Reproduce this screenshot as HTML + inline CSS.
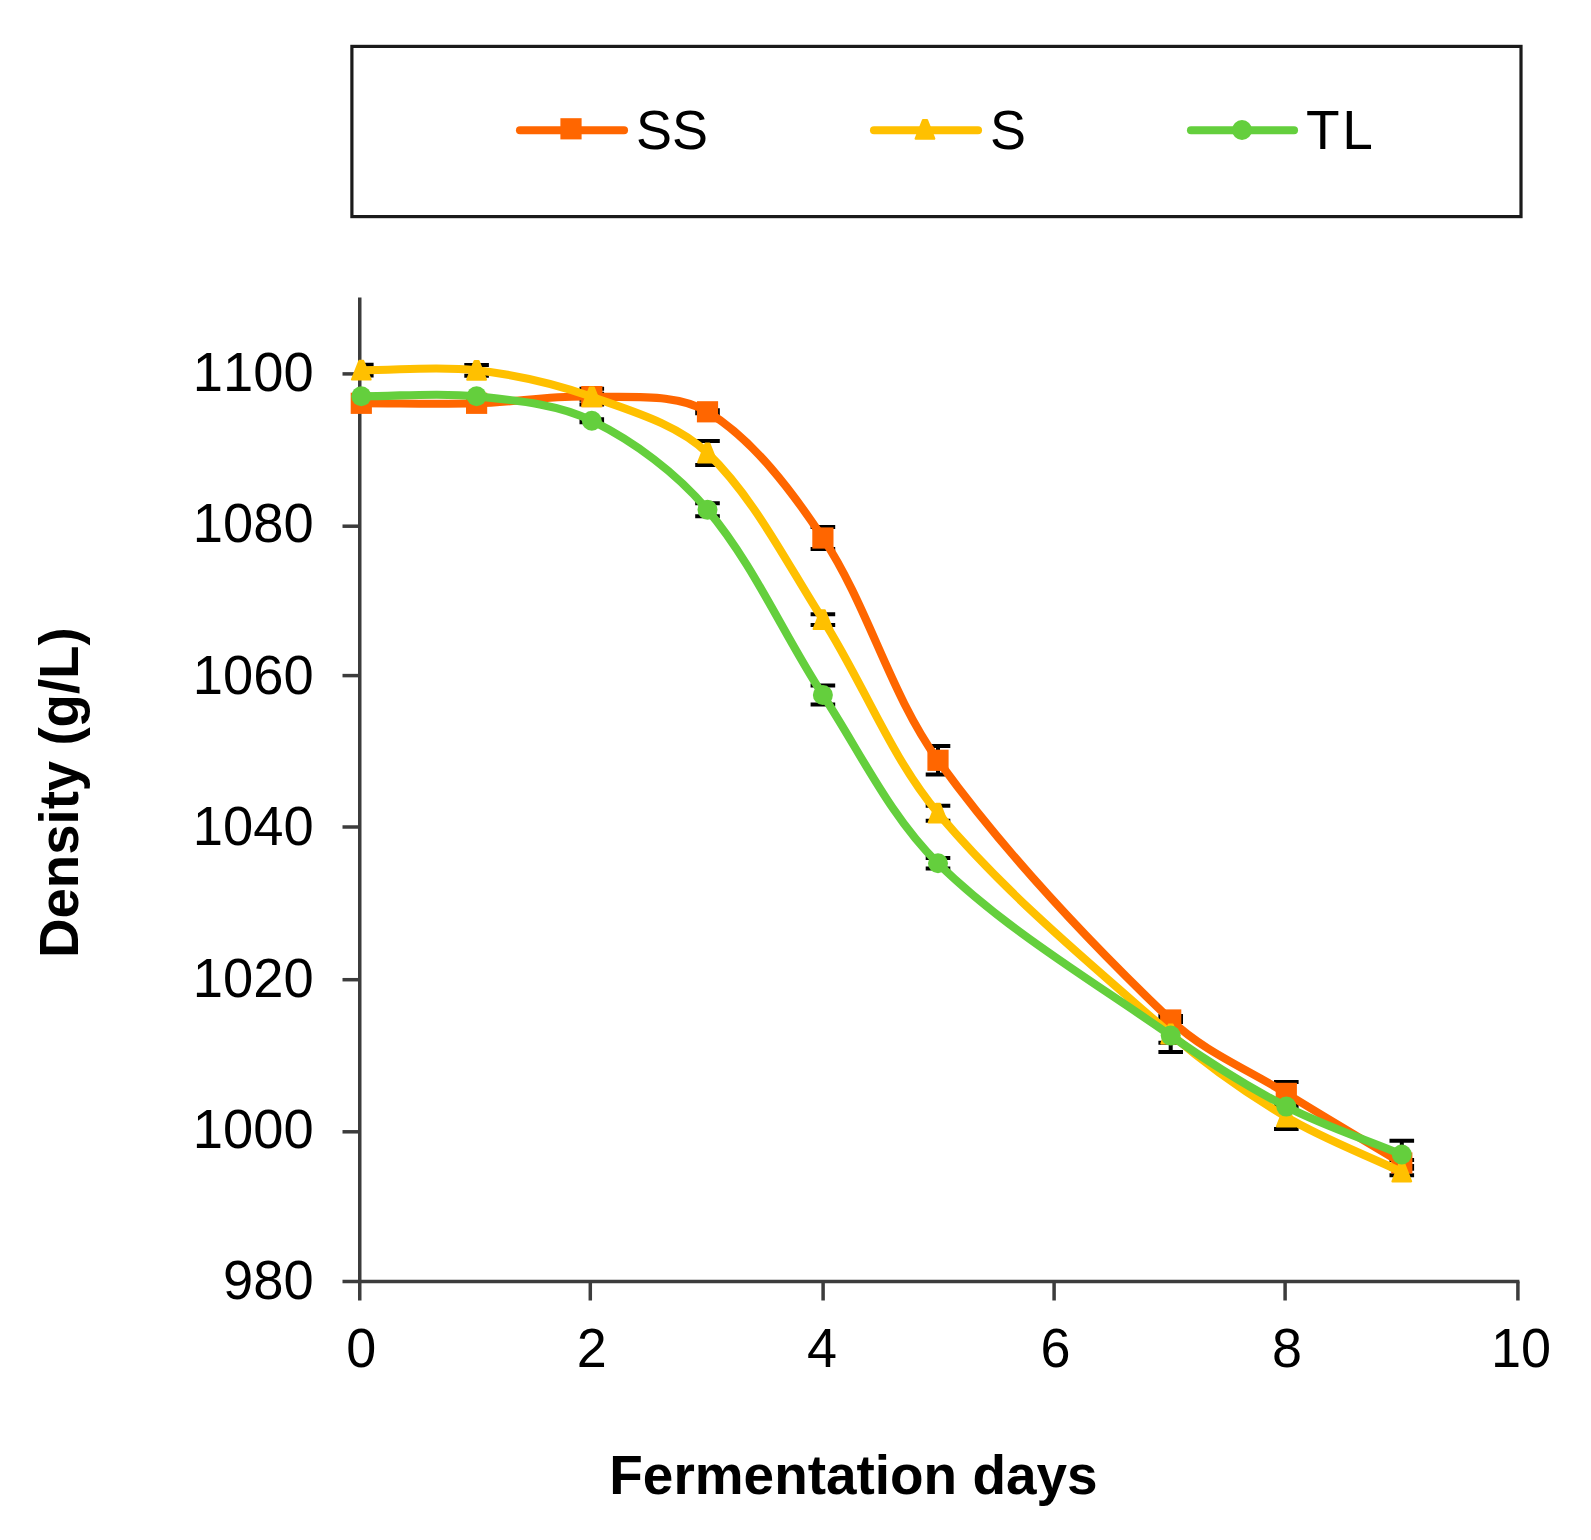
<!DOCTYPE html>
<html lang="en">
<head>
<meta charset="utf-8">
<title>Density during fermentation</title>
<style>
html,body{margin:0;padding:0;background:#fff;}
body{width:1591px;height:1540px;overflow:hidden;}
svg{display:block;}
text{font-family:"Liberation Sans",sans-serif;fill:#000;font-kerning:none;}
.b{font-weight:bold;}
</style>
</head>
<body>
<svg width="1591" height="1540" viewBox="0 0 1591 1540">
<rect x="0" y="0" width="1591" height="1540" fill="#fff"/>
<g>

<rect x="351.9" y="46.4" width="1169.1" height="170.2" fill="none" stroke="#1a1a1a" stroke-width="3.2"/>
<line x1="520.0" y1="130.3" x2="624.0" y2="130.3" stroke="#FF6600" stroke-width="8.1" stroke-linecap="round"/><rect x="560.40" y="118.20" width="21.2" height="21.2" fill="#FF6600"/><text x="636" y="149.3" font-size="55" textLength="72" lengthAdjust="spacingAndGlyphs">SS</text>
<line x1="874.0" y1="130.3" x2="978.0" y2="130.3" stroke="#FFC000" stroke-width="8.1" stroke-linecap="round"/><path d="M923.00 119.90 L927.00 119.90 L934.40 138.70 L915.60 138.70 Z" fill="#FFC000" stroke="#FFC000" stroke-width="2.0" stroke-linejoin="round"/><text x="990" y="149.3" font-size="55" textLength="36" lengthAdjust="spacingAndGlyphs">S</text>
<line x1="1191.0" y1="130.3" x2="1294.0" y2="130.3" stroke="#64CF3D" stroke-width="8.1" stroke-linecap="round"/><circle cx="1242.00" cy="130.00" r="10" fill="#64CF3D"/><text x="1306 1342.3" y="149.3" font-size="55">TL</text>
<g stroke="#3c3c3c" stroke-width="3.5" fill="none">
<line x1="359.75" y1="297.5" x2="359.75" y2="1300.5"/>
<line x1="342.5" y1="1281.4" x2="1519.4" y2="1281.4"/>
<line x1="342.5" y1="1131.8" x2="359.75" y2="1131.8"/>
<line x1="342.5" y1="979.7" x2="359.75" y2="979.7"/>
<line x1="342.5" y1="827.0" x2="359.75" y2="827.0"/>
<line x1="342.5" y1="675.6" x2="359.75" y2="675.6"/>
<line x1="342.5" y1="526.2" x2="359.75" y2="526.2"/>
<line x1="342.5" y1="373.9" x2="359.75" y2="373.9"/>
<line x1="590.3" y1="1281.4" x2="590.3" y2="1300.5"/>
<line x1="823.1" y1="1281.4" x2="823.1" y2="1300.5"/>
<line x1="1054.1" y1="1281.4" x2="1054.1" y2="1300.5"/>
<line x1="1285.1" y1="1281.4" x2="1285.1" y2="1300.5"/>
<line x1="1517.9" y1="1281.4" x2="1517.9" y2="1300.5"/>
</g>
<text x="223.0" y="1299.3" font-size="55" textLength="90.6" lengthAdjust="spacingAndGlyphs">980</text>
<text x="192.8" y="1147.9" font-size="55" textLength="120.8" lengthAdjust="spacingAndGlyphs">1000</text>
<text x="192.8" y="996.5" font-size="55" textLength="120.8" lengthAdjust="spacingAndGlyphs">1020</text>
<text x="192.8" y="845.1" font-size="55" textLength="120.8" lengthAdjust="spacingAndGlyphs">1040</text>
<text x="192.8" y="693.7" font-size="55" textLength="120.8" lengthAdjust="spacingAndGlyphs">1060</text>
<text x="192.8" y="542.3" font-size="55" textLength="120.8" lengthAdjust="spacingAndGlyphs">1080</text>
<text x="192.8" y="390.9" font-size="55" textLength="120.8" lengthAdjust="spacingAndGlyphs">1100</text>
<text x="346.3" y="1366.5" font-size="55" textLength="30.0" lengthAdjust="spacingAndGlyphs">0</text>
<text x="576.7" y="1366.5" font-size="55" textLength="30.0" lengthAdjust="spacingAndGlyphs">2</text>
<text x="807.1" y="1366.5" font-size="55" textLength="30.0" lengthAdjust="spacingAndGlyphs">4</text>
<text x="1040.5" y="1366.5" font-size="55" textLength="30.0" lengthAdjust="spacingAndGlyphs">6</text>
<text x="1271.9" y="1366.5" font-size="55" textLength="30.0" lengthAdjust="spacingAndGlyphs">8</text>
<text x="1491.0" y="1366.5" font-size="55" textLength="60.1" lengthAdjust="spacingAndGlyphs">10</text>
<text class="b" x="609.3" y="1493.6" font-size="55.3" textLength="488.3" lengthAdjust="spacingAndGlyphs">Fermentation days</text>
<text class="b" transform="translate(78.2 958.0) rotate(-90)" font-size="55.3" textLength="330.6" lengthAdjust="spacingAndGlyphs">Density (g/L)</text>
<path d="M591.8 388.8V404.4M579.5 388.8H604.1M579.5 404.4H604.1M707.5 410.3V413.3M695.2 410.3H719.8M695.2 413.3H719.8M822.9 527.0V549.0M810.6 527.0H835.2M810.6 549.0H835.2M938.0 746.0V774.6M925.7 746.0H950.3M925.7 774.6H950.3M1170.7 1018.0V1022.0M1158.4 1018.0H1183.0M1158.4 1022.0H1183.0M1286.3 1082.1V1104.7M1274.0 1082.1H1298.6M1274.0 1104.7H1298.6M1401.8 1160.0V1166.0M1389.5 1160.0H1414.1M1389.5 1166.0H1414.1M361.3 364.8V375.6M361.3 364.8H373.6M361.3 375.6H373.6M476.6 364.9V375.7M464.3 364.9H488.9M464.3 375.7H488.9M591.8 393.8V399.8M579.5 393.8H604.1M579.5 399.8H604.1M707.5 441.0V465.0M695.2 441.0H719.8M695.2 465.0H719.8M822.9 614.3V625.1M810.6 614.3H835.2M810.6 625.1H835.2M938.0 805.7V820.7M925.7 805.7H950.3M925.7 820.7H950.3M1170.7 1016.0V1052.0M1158.4 1016.0H1183.0M1158.4 1052.0H1183.0M1286.3 1105.0V1129.0M1274.0 1105.0H1298.6M1274.0 1129.0H1298.6M1401.8 1168.7V1175.3M1389.5 1168.7H1414.1M1389.5 1175.3H1414.1M591.8 419.2V422.2M579.5 419.2H604.1M579.5 422.2H604.1M707.5 503.3V516.3M695.2 503.3H719.8M695.2 516.3H719.8M822.9 685.5V704.5M810.6 685.5H835.2M810.6 704.5H835.2M938.0 858.0V868.6M925.7 858.0H950.3M925.7 868.6H950.3M1170.7 1028.4V1042.8M1158.4 1028.4H1183.0M1158.4 1042.8H1183.0M1286.3 1104.6V1108.6M1274.0 1104.6H1298.6M1274.0 1108.6H1298.6M1401.8 1140.7V1168.3M1389.5 1140.7H1414.1M1389.5 1168.3H1414.1" stroke="#000" stroke-width="4" fill="none"/>
<g>
<path d="M361.30 403.30 C399.73 403.30 438.20 404.42 476.60 403.30 C515.03 402.18 553.53 395.19 591.80 396.60 C630.50 398.02 676.25 392.68 707.50 411.80 C753.29 439.82 791.72 490.85 822.90 538.00 C868.55 607.02 889.55 693.16 938.00 760.30 C1005.49 853.83 1087.34 940.27 1170.70 1020.00 C1203.44 1051.31 1247.49 1069.38 1286.30 1093.40 C1324.52 1117.05 1363.30 1139.80 1401.80 1163.00" fill="none" stroke="#FF6600" stroke-width="8.1" stroke-linecap="round" stroke-linejoin="round"/>
<rect x="350.70" y="392.70" width="21.2" height="21.2" fill="#FF6600"/>
<rect x="466.00" y="392.70" width="21.2" height="21.2" fill="#FF6600"/>
<rect x="581.20" y="386.00" width="21.2" height="21.2" fill="#FF6600"/>
<rect x="696.90" y="401.20" width="21.2" height="21.2" fill="#FF6600"/>
<rect x="812.30" y="527.40" width="21.2" height="21.2" fill="#FF6600"/>
<rect x="927.40" y="749.70" width="21.2" height="21.2" fill="#FF6600"/>
<rect x="1160.10" y="1009.40" width="21.2" height="21.2" fill="#FF6600"/>
<rect x="1275.70" y="1082.80" width="21.2" height="21.2" fill="#FF6600"/>
<rect x="1391.20" y="1152.40" width="21.2" height="21.2" fill="#FF6600"/>
</g>
<g>
<path d="M361.30 370.20 C399.73 370.23 438.66 365.92 476.60 370.30 C515.50 374.79 554.94 383.60 591.80 396.80 C631.91 411.17 677.60 424.16 707.50 453.00 C754.63 498.46 786.49 562.81 822.90 619.70 C863.33 682.88 890.19 756.25 938.00 813.20 C1006.12 894.35 1090.28 963.85 1170.70 1034.00 C1206.38 1065.12 1245.73 1092.78 1286.30 1117.00 C1322.77 1138.78 1363.30 1153.67 1401.80 1172.00" fill="none" stroke="#FFC000" stroke-width="8.1" stroke-linecap="round" stroke-linejoin="round"/>
<path d="M359.30 360.80 L363.30 360.80 L370.70 379.60 L351.90 379.60 Z" fill="#FFC000" stroke="#FFC000" stroke-width="2.0" stroke-linejoin="round"/>
<path d="M474.60 360.90 L478.60 360.90 L486.00 379.70 L467.20 379.70 Z" fill="#FFC000" stroke="#FFC000" stroke-width="2.0" stroke-linejoin="round"/>
<path d="M589.80 387.40 L593.80 387.40 L601.20 406.20 L582.40 406.20 Z" fill="#FFC000" stroke="#FFC000" stroke-width="2.0" stroke-linejoin="round"/>
<path d="M705.50 443.60 L709.50 443.60 L716.90 462.40 L698.10 462.40 Z" fill="#FFC000" stroke="#FFC000" stroke-width="2.0" stroke-linejoin="round"/>
<path d="M820.90 610.30 L824.90 610.30 L832.30 629.10 L813.50 629.10 Z" fill="#FFC000" stroke="#FFC000" stroke-width="2.0" stroke-linejoin="round"/>
<path d="M936.00 803.80 L940.00 803.80 L947.40 822.60 L928.60 822.60 Z" fill="#FFC000" stroke="#FFC000" stroke-width="2.0" stroke-linejoin="round"/>
<path d="M1168.70 1024.60 L1172.70 1024.60 L1180.10 1043.40 L1161.30 1043.40 Z" fill="#FFC000" stroke="#FFC000" stroke-width="2.0" stroke-linejoin="round"/>
<path d="M1284.30 1107.60 L1288.30 1107.60 L1295.70 1126.40 L1276.90 1126.40 Z" fill="#FFC000" stroke="#FFC000" stroke-width="2.0" stroke-linejoin="round"/>
<path d="M1399.80 1162.60 L1403.80 1162.60 L1411.20 1181.40 L1392.40 1181.40 Z" fill="#FFC000" stroke="#FFC000" stroke-width="2.0" stroke-linejoin="round"/>
</g>
<g>
<path d="M361.30 396.30 C399.73 396.30 438.59 392.28 476.60 396.30 C515.42 400.41 557.44 403.81 591.80 420.70 C634.41 441.64 676.62 473.14 707.50 509.80 C753.65 564.58 783.18 634.08 822.90 695.00 C860.01 751.92 890.10 816.39 938.00 863.30 C1006.03 929.92 1091.64 980.37 1170.70 1035.60 C1207.74 1061.47 1246.21 1085.98 1286.30 1106.60 C1323.25 1125.61 1363.30 1138.53 1401.80 1154.50" fill="none" stroke="#64CF3D" stroke-width="8.1" stroke-linecap="round" stroke-linejoin="round"/>
<circle cx="361.30" cy="396.30" r="10" fill="#64CF3D"/>
<circle cx="476.60" cy="396.30" r="10" fill="#64CF3D"/>
<circle cx="591.80" cy="420.70" r="10" fill="#64CF3D"/>
<circle cx="707.50" cy="509.80" r="10" fill="#64CF3D"/>
<circle cx="822.90" cy="695.00" r="10" fill="#64CF3D"/>
<circle cx="938.00" cy="863.30" r="10" fill="#64CF3D"/>
<circle cx="1170.70" cy="1035.60" r="10" fill="#64CF3D"/>
<circle cx="1286.30" cy="1106.60" r="10" fill="#64CF3D"/>
<circle cx="1401.80" cy="1154.50" r="10" fill="#64CF3D"/>
</g>
</g>
</svg>
</body>
</html>
